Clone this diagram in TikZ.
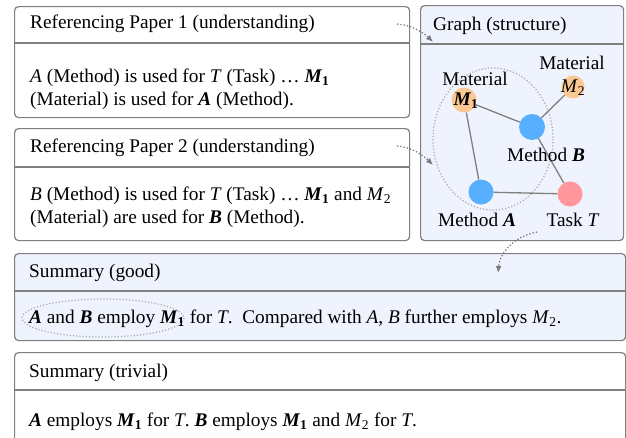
\documentclass[tikz,border=0pt]{standalone}
\usepackage{fontspec}
\setmainfont{Liberation Serif}
\usetikzlibrary{arrows.meta}
\definecolor{boxline}{HTML}{7F7F7F}
\definecolor{lightblue}{HTML}{EEF3FD}
\definecolor{matc}{HTML}{FBC894}
\definecolor{methc}{HTML}{59AFFF}
\definecolor{taskc}{HTML}{FF979D}
\definecolor{edgec}{HTML}{808080}
\definecolor{dotc}{HTML}{7A7A7A}
\definecolor{ellc}{HTML}{AAAAAA}
\newcommand\vi[1]{\textit{#1}}
\newcommand\vb[1]{\textbf{\textit{#1}}}
\newcommand\Mone{\vb{M}\textsubscript{\textbf{1}}}
\newcommand\Mtwo{\vi{M}\textsubscript{2}}
\begin{document}
\begin{tikzpicture}[x=1pt,y=-1pt, font=\fontsize{19.3}{23}\selectfont,
 panel/.style={draw=boxline, line width=1.2pt, rounded corners=4pt, inner sep=0pt, anchor=north west},
 divider/.style={draw=boxline, line width=1.2pt},
 txt/.style={anchor=west, inner sep=0pt},
 ctxt/.style={inner sep=0pt},
 gnode/.style={circle, inner sep=0pt, minimum size=#1},
 edge/.style={draw=edgec, line width=1.3pt},
 ptr/.style={draw=dotc, line width=1.3pt, dotted, -{Latex[length=7pt,width=6pt]}},
 ring/.style={draw=ellc, line width=1.2pt, dotted},
]
\useasboundingbox (0,0) rectangle (626,437);
% panels
\node[panel, fill=white, minimum width=395, minimum height=111] (p1) at (14,6) {};
\node[panel, fill=white, minimum width=395, minimum height=112] (p2) at (14,128) {};
\node[panel, fill=lightblue, minimum width=203, minimum height=235] (gr) at (420,5) {};
\node[panel, fill=lightblue, minimum width=611, minimum height=87] (sg) at (14,253) {};
\node[panel, fill=white, minimum width=611, minimum height=100] (st) at (14,352) {};
\draw[divider] (p1.west |- 0,43) -- (p1.east |- 0,43);
\draw[divider] (p2.west |- 0,167) -- (p2.east |- 0,167);
\draw[divider] (gr.west |- 0,44) -- (gr.east |- 0,44);
\draw[divider] (sg.west |- 0,291) -- (sg.east |- 0,291);
\draw[divider] (st.west |- 0,390) -- (st.east |- 0,390);
% texts
\node[txt] (p1h) at (30,24) {Referencing Paper 1 (understanding)};
\node[txt] (p1a) at (30,78) {\vi{A} (Method) is used for \vi{T} (Task) … \Mone};
\node[txt] (p1b) at (30,101) {(Material) is used for \vb{A} (Method).};
\node[txt] (p2h) at (30,148) {Referencing Paper 2 (understanding)};
\node[txt] (p2a) at (30,196) {\vi{B} (Method) is used for \vi{T} (Task) … \Mone{} and \Mtwo};
\node[txt] (p2b) at (30,219) {(Material) are used for \vb{B} (Method).};
\node[txt] (grh) at (433,26) {Graph (structure)};
\node[txt] (sgh) at (29,273) {Summary (good)};
\node[txt] (sgb) at (29,319) {\vb{A} and \vb{B} employ \Mone{} for \vi{T}.\ \ Compared with \vi{A}, \vi{B} further employs \Mtwo.};
\node[txt] (sth) at (29,373) {Summary (trivial)};
\node[txt] (stb) at (29,422) {\vb{A} employs \Mone{} for \vi{T}. \vb{B} employs \Mone{} and \Mtwo{} for \vi{T}.};
% graph
\draw[ring] (493,139) ellipse [x radius=60, y radius=71];
\draw[ring] (103,318) ellipse [x radius=81, y radius=19];
\node[gnode=25, fill=matc] (m1) at (464,100) {};
\node[gnode=23, fill=matc] (m2) at (573,87) {};
\node[gnode=26, fill=methc] (mb) at (532,127) {};
\node[gnode=25, fill=methc] (ma) at (481,192) {};
\node[gnode=25, fill=taskc] (tt) at (570,194) {};
\draw[edge] (m1) -- (mb);
\draw[edge] (m1) -- (ma);
\draw[edge] (mb) -- (m2);
\draw[edge] (mb) -- (tt);
\draw[edge] (ma) -- (tt);
\node[ctxt] (m1t) at (466,101) {\Mone};
\node[ctxt] (m2t) at (573,88) {\Mtwo};
\node[ctxt] (m1l) at (475,79) {Material};
\node[ctxt] (m2l) at (572,63) {Material};
\node[ctxt] (mbl) at (546,155) {Method \vb{B}};
\node[ctxt] (mal) at (477,220) {Method \vb{A}};
\node[ctxt] (ttl) at (573,220) {Task \vi{T}};
% pointers
\coordinate (a1s) at (397,24);
\coordinate (a1e) at (433,42);
\coordinate (a2s) at (397,146);
\coordinate (a2e) at (433,165);
\coordinate (a3s) at (537,232);
\coordinate (a3e) at (498,273);
\draw[ptr] (a1s) .. controls (412,25) and (424,33) .. (a1e);
\draw[ptr] (a2s) .. controls (412,147) and (424,156) .. (a2e);
\draw[ptr] (a3s) .. controls (515,236) and (500,252) .. (a3e);
\end{tikzpicture}
\end{document}
